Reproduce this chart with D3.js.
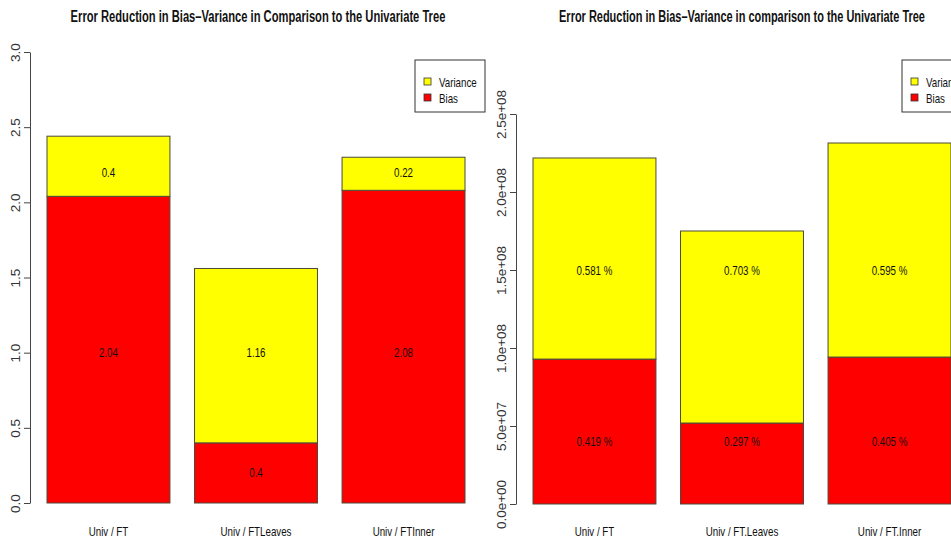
<!DOCTYPE html>
<html>
<head>
<meta charset="utf-8">
<script src="https://cdn.jsdelivr.net/npm/d3@7"></script>
<style>
  body { margin: 0; background: #fff; }
  svg { display: block; font-family: "Liberation Sans", Arial, sans-serif; }
</style>
</head>
<body>
<svg id="plot" width="951" height="540"></svg>
<script>
// left panel: absolute error reduction
var catsLeft = ['Univ / FT', 'Univ / FTLeaves', 'Univ / FTInner'];
var biasLeft = [2.04, 0.4, 2.08];
var varLeft = [0.4, 1.16, 0.22];
var biasLeftTxt = ['2.04', '0.4', '2.08'];
var varLeftTxt = ['0.4', '1.16', '0.22'];
var biasLeftAt = [1.0, 0.2, 1.0];
var varLeftAt = [2.2, 1.0, 2.2];
var ticksLeft = [0, 0.5, 1, 1.5, 2, 2.5, 3];

// right panel: shares of the error reduction
var catsRight = ['Univ / FT', 'Univ / FT.Leaves', 'Univ / FT.Inner'];
var biasRight = [0.929e8, 0.519e8, 0.942e8];
var varRight = [1.289e8, 1.231e8, 1.372e8];
var biasRightTxt = ['0.419 %', '0.297 %', '0.405 %'];
var varRightTxt = ['0.581 %', '0.703 %', '0.595 %'];
var biasRightAt = [4e7, 4e7, 4e7];
var varRightAt = [1.5e8, 1.5e8, 1.5e8];
var ticksRight = [0, 5e7, 1e8, 1.5e8, 2e8, 2.5e8];

var legendKeys = ['Variance', 'Bias'];
var colors = {Variance: '#ffff00', Bias: '#ff0000'};

var svg = d3.select('#plot');
var squash = 0.75; // the picture is horizontally compressed

function hText(g, x, y, str, size, weight) {
    return g.append('text')
        .attr('transform', 'translate(' + x + ',' + y + ') scale(' + squash + ',1)')
        .attr('text-anchor', 'middle')
        .attr('dominant-baseline', 'central')
        .style('font-size', size + 'px')
        .style('font-weight', weight || 'normal')
        .style('fill', '#111')
        .text(str);
}

function fmtExp(d) {
    var s = d.toExponential(1);
    return s.replace(/e([+-])(\d)$/, 'e$10$2');
}

function panel(p) {
    var g = svg.append('g');

    var x = d3.scaleBand().domain(p.cats).range(p.xr).paddingInner(0.1667).paddingOuter(0);
    var y = d3.scaleLinear().domain(p.ydom).range(p.yr);

    var rows = p.cats.map(function(c, i) {
        return {cat: c, bias: p.bias[i], variance: p.variance[i]};
    });
    var stack = d3.stack().keys(['bias', 'variance'])(rows);

    g.selectAll('g.layer')
        .data(stack)
        .join('g')
        .attr('class', 'layer')
        .attr('fill', function(d) { return d.key === 'bias' ? colors.Bias : colors.Variance; })
        .selectAll('rect')
        .data(function(d) { return d; })
        .join('rect')
        .attr('x', function(d) { return x(d.data.cat); })
        .attr('width', x.bandwidth())
        .attr('y', function(d) { return y(d[1]); })
        .attr('height', function(d) { return y(d[0]) - y(d[1]); })
        .attr('stroke', '#4a4a3a')
        .attr('stroke-width', 1);

    p.cats.forEach(function(c, i) {
        var cx = x(c) + x.bandwidth() / 2;
        hText(g, cx, y(p.varAt[i]), p.varTxt[i], 13);
        hText(g, cx, y(p.biasAt[i]), p.biasTxt[i], 13);
        hText(g, cx, 531, c, 13);
    });

    var ax = g.append('g')
        .attr('transform', 'translate(' + p.axisX + ',0)')
        .call(d3.axisLeft(y).tickValues(p.ticks).tickFormat(p.fmt).tickSize(6).tickSizeOuter(0));
    ax.select('.domain').attr('stroke', '#444');
    ax.selectAll('.tick line').attr('stroke', '#444');
    ax.selectAll('.tick text')
        .attr('x', null).attr('dy', null)
        .attr('transform', 'translate(-10,0) rotate(-90)')
        .attr('text-anchor', 'middle')
        .style('font-size', '13.5px')
        .style('font-family', '"Liberation Sans", Arial, sans-serif')
        .style('fill', '#333');

    var t = g.append('text')
        .attr('text-anchor', 'middle')
        .style('font-size', '17px')
        .style('font-weight', 'bold')
        .style('fill', '#111')
        .text(p.title);
    var k = p.titleW / t.node().getComputedTextLength();
    t.attr('transform', 'translate(' + p.titleX + ',22) scale(' + k + ',1)');

    // legend
    var lg = g.append('g').attr('transform', 'translate(' + p.legX + ',60)');
    lg.append('rect')
        .attr('width', 70).attr('height', 52)
        .attr('fill', '#fff').attr('stroke', '#333').attr('stroke-width', 1);
    legendKeys.forEach(function(key, i) {
        lg.append('rect')
            .attr('x', 9).attr('y', 18 + i * 16).attr('width', 7).attr('height', 7)
            .attr('fill', colors[key]).attr('stroke', '#333').attr('stroke-width', 0.8);
        lg.append('text')
            .attr('transform', 'translate(24,' + (22 + i * 16) + ') scale(' + squash + ',1)')
            .attr('dominant-baseline', 'central')
            .style('font-size', '13px')
            .style('fill', '#111')
            .text(key);
    });
}

panel({
    cats: catsLeft, bias: biasLeft, variance: varLeft,
    biasTxt: biasLeftTxt, varTxt: varLeftTxt, biasAt: biasLeftAt, varAt: varLeftAt,
    ticks: ticksLeft, fmt: d3.format('.1f'),
    xr: [47, 465], ydom: [0, 3], yr: [503, 52], axisX: 30,
    title: 'Error Reduction in Bias\u2013Variance in Comparison to the Univariate Tree',
    titleX: 258, titleW: 375, legX: 415
});

panel({
    cats: catsRight, bias: biasRight, variance: varRight,
    biasTxt: biasRightTxt, varTxt: varRightTxt, biasAt: biasRightAt, varAt: varRightAt,
    ticks: ticksRight, fmt: fmtExp,
    xr: [533, 951], ydom: [0, 2.5e8], yr: [504, 114], axisX: 516,
    title: 'Error Reduction in Bias\u2013Variance in comparison to the Univariate Tree',
    titleX: 742, titleW: 366, legX: 902
});
</script>
</body>
</html>
